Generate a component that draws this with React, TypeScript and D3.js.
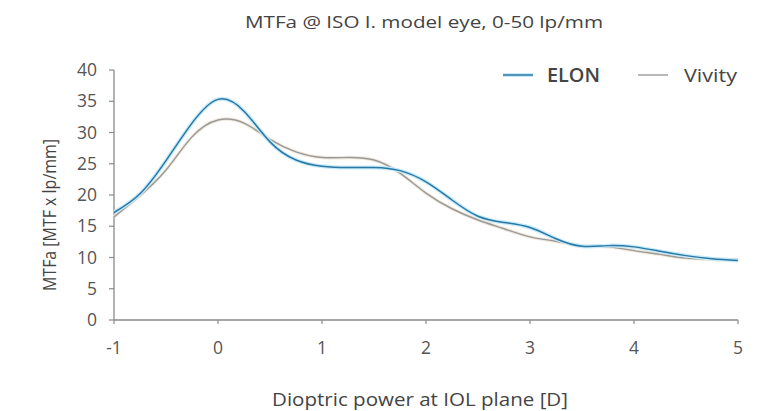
import React from "react";
import * as d3 from "d3";

const xValues = [-1, -0.75, -0.5, -0.25, 0, 0.25, 0.5, 0.75, 1, 1.25, 1.5, 1.75, 2, 2.25, 2.5, 2.75, 3, 3.25, 3.5, 3.75, 4, 4.25, 4.5, 4.75, 5];
const elon = [17.2, 20.2, 25.5, 31.5, 35.3, 33.4, 28.5, 25.6, 24.6, 24.4, 24.4, 23.9, 22.1, 19.2, 16.6, 15.6, 14.8, 13.0, 11.8, 11.9, 11.7, 11.0, 10.3, 9.8, 9.5];
const vivity = [16.5, 19.9, 24.0, 29.3, 32.0, 31.5, 28.9, 26.9, 26.0, 26.0, 25.6, 23.5, 20.3, 17.8, 16.0, 14.6, 13.3, 12.6, 11.9, 11.7, 11.1, 10.5, 9.9, 9.7, 9.7];
const xTicks = [-1, 0, 1, 2, 3, 4, 5];
const yTicks = [0, 5, 10, 15, 20, 25, 30, 35, 40];
const seriesNames = ["ELON", "Vivity"];
const titleText = "MTFa @ ISO I. model eye, 0-50 lp/mm";
const xTitle = "Dioptric power at IOL plane [D]";
const yTitle = "MTFa [MTF x lp/mm]";

const W = 770;
const H = 411;
const FONT = "'Open Sans', 'Noto Sans', sans-serif";
const TEXT = "#444";
const AXIS = "#8a8a8a";
const BLUE = "#2a78a6";
const GRAY = "#9a9a9a";

export default function App() {
  const x = d3.scaleLinear().domain([-1, 5]).range([114, 738]);
  const y = d3.scaleLinear().domain([0, 40]).range([320, 70]);

  const line = d3
    .line<number>()
    .x((_, i) => x(xValues[i]))
    .y((d) => y(d))
    .curve(d3.curveNatural);

  const elonPath = line(elon) || "";
  const vivPath = line(vivity) || "";

  return (
    <svg
      width={W}
      height={H}
      style={{ position: "absolute", left: 0, top: 0, background: "#fff" }}
      fontFamily={FONT}
    >
      <rect x={0} y={0} width={W} height={H} fill="#fff" />
      <text x={424} y={28} textAnchor="middle" fontSize={17} fill={TEXT} fontWeight={500} textLength={358} lengthAdjust="spacingAndGlyphs">
        {titleText}
      </text>

      {/* axes */}
      <line x1={x(-1)} x2={x(5)} y1={y(0)} y2={y(0)} stroke={AXIS} strokeWidth={1.3} />
      <line x1={x(-1)} x2={x(-1)} y1={y(40)} y2={y(0)} stroke={AXIS} strokeWidth={1.3} />
      {xTicks.map((t) => (
        <g key={"xt" + t}>
          <line x1={x(t)} x2={x(t)} y1={y(0)} y2={y(0) + 4} stroke={AXIS} strokeWidth={1.2} />
          <text x={x(t)} y={354} textAnchor="middle" fontSize={17.5} fill="#555" fontWeight={400}>
            {t}
          </text>
        </g>
      ))}
      {yTicks.map((t) => (
        <g key={"yt" + t}>
          <line x1={x(-1) - 5} x2={x(-1)} y1={y(t)} y2={y(t)} stroke={AXIS} strokeWidth={1.2} />
          <text x={97} y={y(t) + 6} textAnchor="end" fontSize={17.5} fill="#555" fontWeight={400}>
            {t}
          </text>
        </g>
      ))}

      <text x={420} y={406} textAnchor="middle" fontSize={17.5} fill={TEXT} fontWeight={500} textLength={296} lengthAdjust="spacingAndGlyphs">
        {xTitle}
      </text>
      <text
        transform={`translate(56,${215}) rotate(-90)`}
        textAnchor="middle"
        fontSize={17.5}
        fill={TEXT}
        fontWeight={500}
        textLength={152}
        lengthAdjust="spacingAndGlyphs"
      >
        {yTitle}
      </text>

      {/* lines */}
      <path d={vivPath} fill="none" stroke="#f1e9dc" strokeWidth={3.5} />
      <path d={vivPath} fill="none" stroke={GRAY} strokeWidth={1.4} />
      <path d={elonPath} fill="none" stroke="#c6eaf7" strokeWidth={4} />
      <path d={elonPath} fill="none" stroke={BLUE} strokeWidth={1.5} />

      {/* legend */}
      <line x1={503} x2={533} y1={75} y2={75} stroke="#c6eaf7" strokeWidth={4} />
      <line x1={503} x2={533} y1={75} y2={75} stroke={BLUE} strokeWidth={1.5} />
      <text x={547} y={82} fontSize={19} fill={TEXT} fontWeight={600} textLength={53} lengthAdjust="spacingAndGlyphs">
        {seriesNames[0]}
      </text>
      <line x1={638} x2={668} y1={75} y2={75} stroke={GRAY} strokeWidth={1.4} />
      <text x={684} y={82} fontSize={19} fill={TEXT} fontWeight={500} textLength={53} lengthAdjust="spacingAndGlyphs">
        {seriesNames[1]}
      </text>
    </svg>
  );
}
